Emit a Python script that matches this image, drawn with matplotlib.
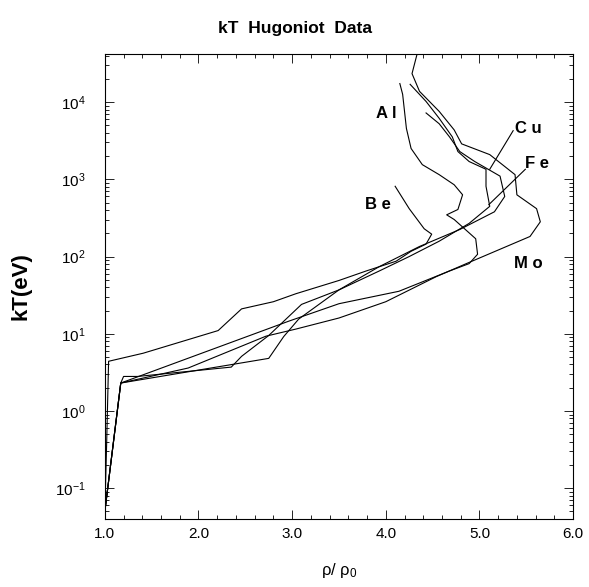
import matplotlib
matplotlib.use("Agg")
import matplotlib.pyplot as plt
from matplotlib.ticker import (LogLocator, MultipleLocator, FixedLocator,
                               NullFormatter, LogFormatterMathtext)

# Hugoniot curves: compression rho/rho0 and temperature kT (eV)
be_rho = [1.00, 1.02, 1.04, 1.41, 2.21, 2.46, 2.80, 3.04, 3.50, 3.79, 4.11, 4.27, 4.43, 4.49, 4.41, 4.25, 4.10]
be_kt = [0.050, 0.41, 4.4, 5.6, 11, 21, 26, 33, 49, 65, 87, 117, 145, 195, 229, 417, 813]

mo_rho = [1.00, 1.17, 1.89, 2.72, 3.04, 3.50, 4.00, 4.54, 4.86, 5.54, 5.65, 5.61, 5.40, 5.38, 5.11, 4.81, 4.73, 4.57, 4.36, 4.28, 4.34]
mo_kt = [0.050, 2.3, 3.6, 9.3, 11.5, 16, 26, 55, 81, 182, 282, 417, 630, 1150, 2090, 2880, 4370, 7590, 13800, 23400, 44700]

al_rho = [1.00, 1.17, 2.96, 3.50, 4.14, 4.68, 4.89, 4.98, 4.96, 4.73, 4.65, 4.77, 4.82, 4.73, 4.57, 4.39, 4.27, 4.22, 4.18, 4.15]
al_kt = [0.050, 2.3, 14.5, 24.5, 35.5, 65, 81, 107, 170, 302, 347, 407, 631, 851, 1150, 1550, 2510, 4570, 12600, 17400]

cu_rho = [1.00, 1.17, 1.20, 1.35, 2.35, 2.46, 2.75, 3.10, 3.50, 3.93, 4.25, 4.57, 4.89, 5.11, 5.07, 5.07, 4.89, 4.77, 4.71, 4.57, 4.43, 4.26]
cu_kt = [0.050, 2.3, 2.8, 2.8, 3.7, 5.1, 9.5, 24, 37, 65, 100, 158, 269, 447, 813, 1350, 1700, 2290, 3550, 6170, 10200, 17000]

fe_rho = [1.00, 1.17, 2.75, 2.91, 3.07, 3.50, 3.93, 4.36, 4.79, 5.16, 5.27, 5.22, 4.95, 4.79, 4.68, 4.57, 4.43]
fe_kt = [0.050, 2.3, 4.8, 9.2, 15.5, 37, 74, 135, 224, 380, 600, 1100, 1700, 2290, 3550, 5250, 7240]

# labels and leader lines
lab_text = ["A l", "C u", "F e", "B e", "M o"]
lab_rho = [4.01, 5.52, 5.61, 3.92, 5.52]
lab_kt = [7200, 4570, 1590, 470, 81]
cu_lead_rho = [5.36, 5.11]
cu_lead_kt = [4270, 1350]
fe_lead_rho = [5.49, 5.10]
fe_lead_kt = [1350, 470]

x_ticks = [1, 2, 3, 4, 5, 6]
x_ticklabels = ["1.0", "2.0", "3.0", "4.0", "5.0", "6.0"]
y_ticks = [0.1, 1, 10, 100, 1000, 10000]

plt.rcParams['font.family'] = ['Liberation Sans', 'DejaVu Sans']
plt.rcParams['mathtext.fontset'] = 'custom'
plt.rcParams['mathtext.rm'] = 'Liberation Sans'
plt.rcParams['mathtext.it'] = 'Liberation Sans'

fig = plt.figure(figsize=(5.89, 5.87), dpi=100)
ax = fig.add_axes([0.178, 0.116, 0.795, 0.792])

lw = 0.8
for r, t in [(be_rho, be_kt), (mo_rho, mo_kt), (al_rho, al_kt), (cu_rho, cu_kt), (fe_rho, fe_kt)]:
    ax.plot(r, t, color="black", lw=lw)
ax.plot(cu_lead_rho, cu_lead_kt, color="black", lw=lw)
ax.plot(fe_lead_rho, fe_lead_kt, color="black", lw=lw)

for s, r, t in zip(lab_text, lab_rho, lab_kt):
    ax.text(r, t, s, ha="center", va="center", fontsize=12, fontweight="bold")

ax.set_yscale("log")
ax.set_xlim(1.0, 6.0)
ax.set_ylim(0.04, 4.2e4)
ax.xaxis.set_major_locator(FixedLocator(x_ticks))
ax.xaxis.set_minor_locator(MultipleLocator(0.2))
ax.set_xticklabels(x_ticklabels)
ax.yaxis.set_major_locator(FixedLocator(y_ticks))
ax.yaxis.set_major_formatter(LogFormatterMathtext())
ax.yaxis.set_minor_locator(LogLocator(base=10, subs=range(2, 10), numticks=20))
ax.yaxis.set_minor_formatter(NullFormatter())
ax.tick_params(which="both", direction="in", top=True, right=True, width=0.6)
ax.tick_params(which="major", length=6.5, labelsize=11)
ax.tick_params(which="minor", length=3)
ax.tick_params(axis="x", which="major", pad=6)
ax.tick_params(axis="y", which="major", pad=14)
for sp in ax.spines.values():
    sp.set_linewidth(0.8)

fig.text(0.5, 0.952, "kT  Hugoniot  Data", ha="center", va="center",
         fontsize=12.5, fontweight="bold")
ax.set_ylabel("kT(eV)", fontsize=16, fontweight="bold", labelpad=17)
ax.set_xlabel(r"$\rho$/ $\rho_0$", fontsize=12, labelpad=14)

fig.savefig("out.png", dpi=100)
